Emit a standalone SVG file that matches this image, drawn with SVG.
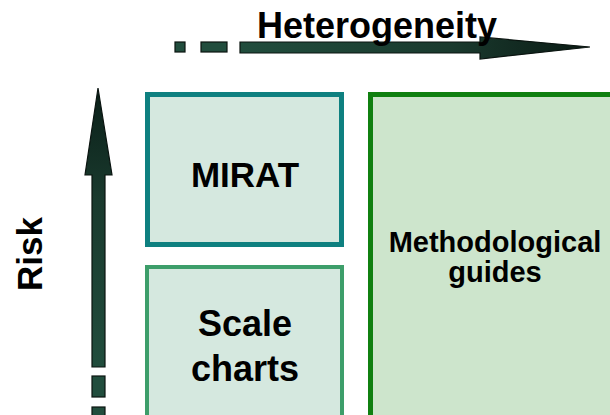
<svg xmlns="http://www.w3.org/2000/svg" width="610" height="415" viewBox="0 0 610 415">
<style>
text{font-family:"Liberation Sans",Arial,sans-serif;font-weight:bold;fill:#000;text-anchor:middle}
.box{fill:#d5e8df}
.arr{stroke:#0a1410;stroke-width:1.2}
</style>
<defs>
<linearGradient id="gh" x1="0" y1="0" x2="1" y2="0">
<stop offset="0" stop-color="#214d3d"/><stop offset="0.6" stop-color="#1a3a2e"/><stop offset="1" stop-color="#0a1a14"/>
</linearGradient>
<linearGradient id="gv" x1="0" y1="1" x2="0" y2="0">
<stop offset="0" stop-color="#214d3d"/><stop offset="0.6" stop-color="#1a3a2e"/><stop offset="1" stop-color="#0a1f18"/>
</linearGradient>
</defs>
<g id="connectors">
<g id="axis-heterogeneity">
<rect class="arr" x="175" y="42" width="10" height="10" fill="#214d3d"/>
<rect class="arr" x="201" y="42" width="26" height="10" fill="#214d3d"/>
<path class="arr" fill="url(#gh)" d="M240,42 H480 V37 L590,47 L480,59 V53 H240 Z"/>
</g>
<g id="axis-risk">
<path class="arr" fill="url(#gv)" d="M92,367 V175 H85 L98,88 L112,175 H105 V367 Z"/>
<rect class="arr" x="92" y="376" width="13" height="21" fill="#214d3d"/>
<rect class="arr" x="92" y="407" width="13" height="12" fill="#214d3d"/>
</g>
</g>
<g id="label-heterogeneity"><text x="377" y="38" font-size="36">Heterogeneity</text></g>
<g id="label-risk"><text transform="translate(42,254) rotate(-90)" font-size="35">Risk</text></g>
<g id="mirat">
<rect class="box" x="147.5" y="94.5" width="194" height="150" stroke="#0e8080" stroke-width="5"/>
<text x="245" y="187" font-size="35">MIRAT</text>
</g>
<g id="scale-charts">
<rect class="box" x="147" y="267" width="195" height="160" stroke="#3d9e6a" stroke-width="4"/>
<text x="245" y="336" font-size="36">Scale</text>
<text x="245" y="381" font-size="36">charts</text>
</g>
<g id="methodological-guides">
<rect x="370.5" y="94.5" width="260" height="340" fill="#cde5cc" stroke="#108010" stroke-width="5"/>
<text x="495" y="252" font-size="29">Methodological</text>
<text x="495" y="282" font-size="29">guides</text>
</g>
</svg>
